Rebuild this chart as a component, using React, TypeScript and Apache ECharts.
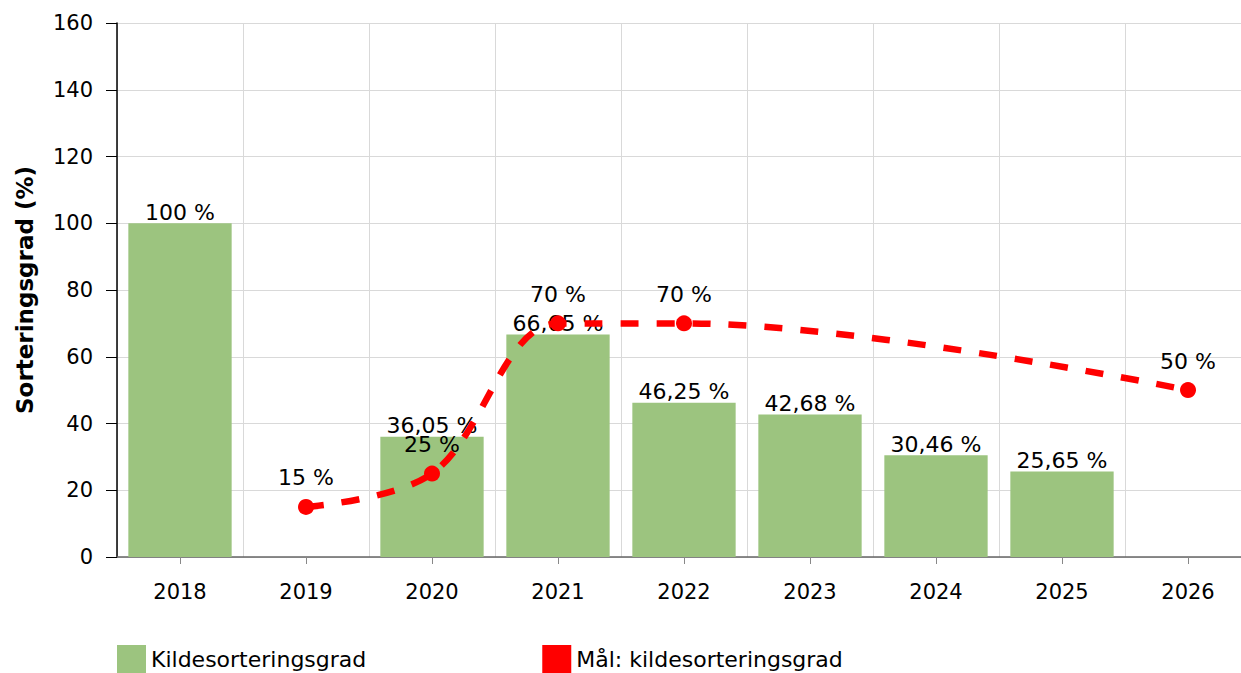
import React, { useEffect, useRef } from "react";
import * as echarts from "echarts";

const categories = ["2018", "2019", "2020", "2021", "2022", "2023", "2024", "2025", "2026"];
const actualValues: (number | null)[] = [100, null, 36.05, 66.65, 46.25, 42.68, 30.46, 25.65, null];
const targetValues: (number | null)[] = [null, 15, 25, 70, 70, null, null, null, 50];
const yTicks = { min: 0, max: 160, interval: 20 };
const seriesNames = ["Kildesorteringsgrad", "Mål: kildesorteringsgrad"];

const FONT = "DejaVu Sans, Verdana, sans-serif";
const fmt = (v: number) => v.toString().replace(".", ",") + " %";

export default function App() {
  const ref = useRef<HTMLDivElement>(null);
  useEffect(() => {
    if (!ref.current) return;
    const chart = echarts.init(ref.current, undefined, { renderer: "svg" });
    chart.setOption({
      animation: false,
      textStyle: { fontFamily: FONT },
      grid: { left: 117, right: -10, top: 23, bottom: 116, containLabel: false, outerBoundsMode: "none" },
      legend: {
        left: 112,
        top: 640,
        itemWidth: 29,
        itemHeight: 29,
        itemGap: 176,
        icon: "rect",
        textStyle: { fontFamily: FONT, fontSize: 22, color: "#000" },
        data: seriesNames,
      },
      xAxis: {
        type: "category",
        data: categories,
        boundaryGap: true,
        axisLine: { lineStyle: { color: "#666", width: 1.5 } },
        axisTick: { show: true, alignWithLabel: true, length: 7, lineStyle: { color: "#888" } },
        axisLabel: { fontFamily: FONT, fontSize: 21, color: "#000", margin: 24 },
        splitLine: { show: true, lineStyle: { color: "#d9d9d9" } },
      },
      yAxis: {
        type: "value",
        min: yTicks.min,
        max: yTicks.max,
        interval: yTicks.interval,
        name: "Sorteringsgrad (%)",
        nameLocation: "middle",
        nameGap: 81,
        nameTextStyle: { fontFamily: FONT, fontSize: 23, fontWeight: "bold", color: "#000" },
        axisLine: { show: true, lineStyle: { color: "#000", width: 1.5 } },
        axisTick: { show: true, length: 11, lineStyle: { color: "#000" } },
        axisLabel: { fontFamily: FONT, fontSize: 21, color: "#000", margin: 24 },
        splitLine: { show: true, lineStyle: { color: "#d9d9d9" } },
      },
      series: [
        {
          name: seriesNames[0],
          type: "bar",
          data: actualValues,
          barCategoryGap: "18%",
          itemStyle: { color: "#9cc47f" },
          label: {
            show: true,
            position: "top",
            distance: 0,
            fontFamily: FONT,
            fontSize: 22,
            color: "#000",
            formatter: (p: any) => fmt(p.value),
          },
        },
        {
          name: seriesNames[1],
          type: "line",
          data: targetValues,
          connectNulls: true,
          smooth: 0.35,
          symbol: "circle",
          symbolSize: 16,
          itemStyle: { color: "#ff0000" },
          lineStyle: { color: "#ff0000", width: 6.5, type: [18, 18] },
          z: 5,
          label: {
            show: true,
            position: "top",
            distance: 10,
            fontFamily: FONT,
            fontSize: 22,
            color: "#000",
            formatter: (p: any) => fmt(p.value),
          },
        },
      ],
    });
    return () => chart.dispose();
  }, []);
  return (
    <div
      ref={ref}
      style={{ position: "fixed", left: 0, top: 0, width: 1241, height: 673, background: "#fff" }}
    />
  );
}
